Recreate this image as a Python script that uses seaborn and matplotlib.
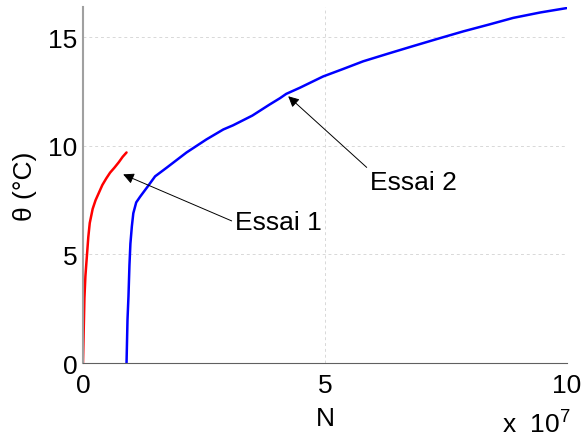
import matplotlib
matplotlib.use("Agg")
import matplotlib.pyplot as plt
import seaborn as sns

# data (N in units of 1e7 cycles, theta in degC)
n_essai1 = [0.0, 0.01, 0.02, 0.03, 0.05, 0.08, 0.11, 0.14, 0.2, 0.26, 0.32,
            0.4, 0.48, 0.56, 0.65, 0.74, 0.82, 0.9]
theta_essai1 = [0.0, 1.0, 2.0, 3.0, 4.0, 4.9, 5.8, 6.45, 7.1, 7.5, 7.8,
                8.2, 8.5, 8.77, 9.0, 9.25, 9.5, 9.7]

n_essai2 = [0.9, 0.91, 0.92, 0.94, 0.96, 0.98, 1.01, 1.04, 1.1, 1.18, 1.26,
            1.35, 1.49, 1.73, 2.14, 2.55, 2.9, 3.1, 3.5, 3.85, 4.07, 4.2, 4.48,
            4.96, 5.38, 5.79, 6.3, 6.82, 7.35, 7.86, 8.4, 8.89, 9.45, 9.99]
theta_essai2 = [0.0, 1.0, 2.0, 3.07, 4.5, 5.5, 6.3, 6.9, 7.4, 7.66, 7.9,
                8.17, 8.6, 9.0, 9.7, 10.3, 10.76, 10.95, 11.4, 11.9, 12.2, 12.4, 12.68,
                13.2, 13.55, 13.9, 14.25, 14.6, 14.95, 15.28, 15.6, 15.9, 16.15, 16.35]

x_ticks = [0, 5, 10]
y_ticks = [0, 5, 10, 15]

sns.set_theme(style="white")
plt.rcParams['font.family'] = ['Liberation Sans', 'DejaVu Sans']
plt.rcParams['mathtext.fontset'] = 'custom'
plt.rcParams['mathtext.rm'] = 'Liberation Sans'
plt.rcParams['text.color'] = 'black'
plt.rcParams['axes.labelcolor'] = 'black'

fig = plt.figure(figsize=(5.86, 4.39), dpi=100)
ax = fig.add_axes([0.1416, 0.1708, 0.8259, 0.8109])

sns.lineplot(x=n_essai1, y=theta_essai1, sort=False, estimator=None,
             color='#ff0000', lw=1.8, ax=ax)
sns.lineplot(x=n_essai2, y=theta_essai2, sort=False, estimator=None,
             color='#0000ff', lw=1.8, ax=ax)

ax.set_xlim(0, 10)
ax.set_ylim(0, 16.4)
ax.set_xticks(x_ticks)
ax.set_yticks(y_ticks)
ax.grid(True, ls=(0, (3, 3)), color='#d8d8d8', lw=0.7)
ax.set_axisbelow(True)

for side in ['top', 'right']:
    ax.spines[side].set_visible(False)
ax.spines['left'].set_color('#a0a0a0')
ax.spines['left'].set_linewidth(1.5)
ax.spines['bottom'].set_color('#606060')
ax.spines['bottom'].set_linewidth(0.8)

ax.tick_params(axis='both', direction='in', length=3, color='#909090',
               labelsize=19, labelcolor='black')
ax.tick_params(axis='x', pad=7)
ax.tick_params(axis='y', pad=4)

ax.set_xlabel('N', fontsize=19, labelpad=7, color='black')
ax.set_ylabel('θ (°C)', fontsize=19, labelpad=8, color='black')

arrow = dict(arrowstyle='-|>', color='black', lw=0.7, mutation_scale=16,
             shrinkA=0, shrinkB=0)
ax.annotate('Essai 1', xy=(0.83, 8.69), xytext=(3.14, 6.16),
            fontsize=19, ha='left', va='baseline', color='black',
            arrowprops=dict(arrow, relpos=(0, 0.5)))
ax.annotate('Essai 2', xy=(4.24, 12.29), xytext=(5.93, 8.0),
            fontsize=19, ha='left', va='baseline', color='black',
            arrowprops=dict(arrow, relpos=(0, 1)))

fig.text(571 / 586, 5 / 439, r'x  $\mathregular{10^{7}}$', fontsize=19,
         ha='right', va='baseline', color='black')

fig.savefig('out.png', dpi=100)
